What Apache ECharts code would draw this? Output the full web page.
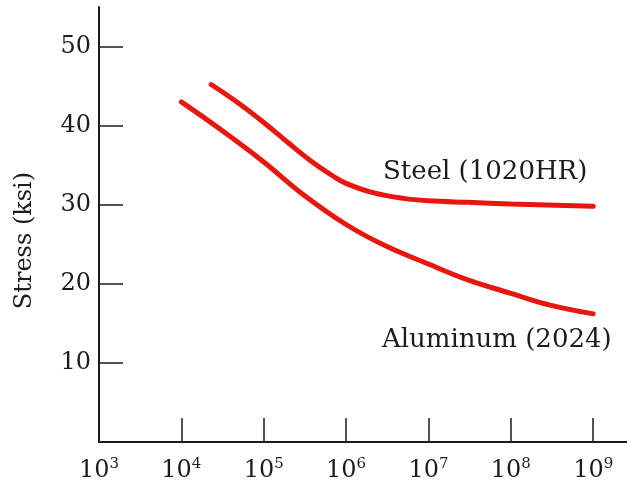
<!DOCTYPE html>
<html><head><meta charset="utf-8">
<script src="https://cdn.jsdelivr.net/npm/echarts@6/dist/echarts.min.js"></script>
<style>html,body{margin:0;padding:0;background:#fff}#c{width:627px;height:485px}</style>
</head><body><div id="c"></div>
<script>
// Cycles to failure (N) and stress (ksi)
const steelCycles = [2.3e4, 5e4, 1e5, 2e5, 4e5, 7e5, 1e6, 2e6, 5e6, 1e7, 3e7, 1e8, 1e9];
const steelStress = [45.2, 42.8, 40.4, 37.8, 35.3, 33.6, 32.7, 31.6, 30.8, 30.5, 30.3, 30.1, 29.8];
const aluCycles = [1e4, 3e4, 1e5, 3e5, 1e6, 3e6, 1e7, 3e7, 1e8, 3e8, 1e9];
const aluStress = [43.0, 39.5, 35.4, 31.3, 27.5, 24.8, 22.5, 20.5, 18.8, 17.3, 16.2];
const xTicks = [1e3, 1e4, 1e5, 1e6, 1e7, 1e8, 1e9];
const yTicks = [10, 20, 30, 40, 50];
const steelName = 'Steel (1020HR)';
const aluName = 'Aluminum (2024)';
const yTitle = 'Stress (ksi)';

const zip = (a, b) => a.map((v, i) => [v, b[i]]);
const serif = '"DejaVu Serif", "Liberation Serif", serif';
const ink = '#1c1c1c';
const red = '#e8160f';

const chart = echarts.init(document.getElementById('c'), null, {renderer: 'canvas'});
chart.setOption({
  animation: false,
  backgroundColor: '#fff',
  grid: {left: 99, right: 0, top: 7, bottom: 43, containLabel: false},
  xAxis: {
    type: 'log', logBase: 10, min: 1e3, max: 2.57e9,
    axisLine: {show: true, onZero: false, lineStyle: {color: ink, width: 2}},
    axisTick: {show: true, inside: true, length: 24, customValues: xTicks, lineStyle: {color: ink, width: 1.5}},
    splitLine: {show: false},
    minorTick: {show: false},
    axisLabel: {
      customValues: xTicks, margin: 15, color: ink, fontFamily: serif, fontSize: 24,
      formatter: v => '10{s|' + Math.round(Math.log10(v)) + '}',
      rich: {s: {fontSize: 15, fontFamily: serif, color: ink, padding: [0, 0, 13, 0]}}
    }
  },
  yAxis: {
    type: 'value', min: 0, max: 55,
    name: yTitle, nameLocation: 'middle', nameGap: 62, nameRotate: 90,
    nameTextStyle: {fontFamily: serif, fontSize: 24, color: ink, padding: [0, 32, 0, 0]},
    axisLine: {show: true, lineStyle: {color: ink, width: 2}},
    axisTick: {show: true, inside: true, length: 24, customValues: yTicks, lineStyle: {color: ink, width: 1.5}},
    splitLine: {show: false},
    axisLabel: {customValues: yTicks, margin: 8, color: ink, fontFamily: serif, fontSize: 24}
  },
  series: [
    {name: steelName, type: 'line', data: zip(steelCycles, steelStress), smooth: 0.4, showSymbol: false,
     lineStyle: {color: red, width: 5, cap: 'round'}},
    {name: aluName, type: 'line', data: zip(aluCycles, aluStress), smooth: 0.4, showSymbol: false,
     lineStyle: {color: red, width: 5, cap: 'round'}}
  ],
  graphic: [
    {type: 'text', left: 383, top: 159, style: {text: steelName, font: '26px ' + serif, fill: ink}},
    {type: 'text', left: 382, top: 327, style: {text: aluName, font: '26px ' + serif, fill: ink}}
  ]
});
</script></body></html>
